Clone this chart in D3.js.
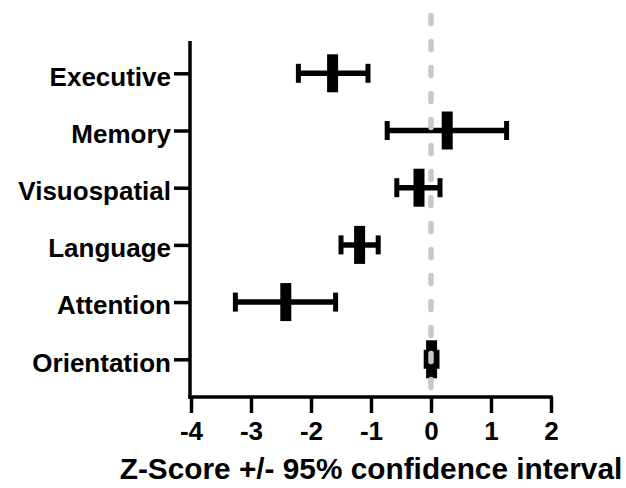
<!DOCTYPE html>
<html>
<head>
<meta charset="utf-8">
<script src="https://cdn.jsdelivr.net/npm/d3@7"></script>
<style>
  html, body { margin: 0; padding: 0; background: #fff; }
  svg text { font-family: Arial, "Liberation Sans", Helvetica, sans-serif; font-weight: bold; fill: #000; }
</style>
</head>
<body>
<svg id="chart" width="626" height="488"></svg>
<script>
// domain values
const categories = ["Executive", "Memory", "Visuospatial", "Language", "Attention", "Orientation"];
const means = [-1.64, 0.27, -0.20, -1.19, -2.42, 0.01];
const lower = [-2.21, -0.73, -0.57, -1.50, -3.26, -0.08];
const upper = [-1.05, 1.26, 0.15, -0.88, -1.59, 0.10];
const xTicks = [-4, -3, -2, -1, 0, 1, 2];
const refValue = 0;
const xTitle = "Z-Score +/- 95% confidence interval";

const rows = categories.map((c, i) => ({ cat: c, mean: means[i], lo: lower[i], hi: upper[i] }));

const svg = d3.select("#chart");
const AXIS_Y = 397, AXIS_X = 190, TOP = 41;

const x = d3.scaleLinear().domain([-4, 2]).range([191, 551]);
const y = d3.scalePoint().domain(categories).range([73.3, 359.3]);

// x axis
const xAxis = svg.append("g")
  .attr("transform", `translate(0,${AXIS_Y})`)
  .call(d3.axisBottom(x).tickValues(xTicks).tickFormat(d3.format("d")).tickSize(16).tickSizeOuter(0).tickPadding(8));
xAxis.select(".domain").remove();
xAxis.selectAll(".tick line").attr("stroke", "#000").attr("stroke-width", 3.5);
xAxis.selectAll(".tick text").style("font-size", "26px").attr("dy", "0.72em")
  .text(d => d < 0 ? "-" + Math.abs(d) : d);
svg.append("line")
  .attr("x1", AXIS_X - 1.75).attr("x2", x(2) + 1.75)
  .attr("y1", AXIS_Y).attr("y2", AXIS_Y)
  .attr("stroke", "#000").attr("stroke-width", 3.5);

// y axis
const yAxis = svg.append("g")
  .attr("transform", `translate(${AXIS_X},0)`)
  .call(d3.axisLeft(y).tickSize(16).tickSizeOuter(0).tickPadding(3));
yAxis.select(".domain").remove();
yAxis.selectAll(".tick line").attr("stroke", "#000").attr("stroke-width", 3.5);
yAxis.selectAll(".tick text").style("font-size", "26px").attr("dy", "0.45em");
svg.append("line")
  .attr("x1", AXIS_X).attr("x2", AXIS_X)
  .attr("y1", TOP).attr("y2", AXIS_Y + 1.75)
  .attr("stroke", "#000").attr("stroke-width", 3.5);

// error bars
const bars = svg.append("g").selectAll("g").data(rows).enter().append("g");
bars.append("line")
  .attr("x1", d => x(d.lo)).attr("x2", d => x(d.hi))
  .attr("y1", d => y(d.cat)).attr("y2", d => y(d.cat))
  .attr("stroke", "#000").attr("stroke-width", 5.5);
bars.append("line")
  .attr("x1", d => x(d.lo)).attr("x2", d => x(d.lo))
  .attr("y1", d => y(d.cat) - 9.5).attr("y2", d => y(d.cat) + 9.5)
  .attr("stroke", "#000").attr("stroke-width", 5);
bars.append("line")
  .attr("x1", d => x(d.hi)).attr("x2", d => x(d.hi))
  .attr("y1", d => y(d.cat) - 9.5).attr("y2", d => y(d.cat) + 9.5)
  .attr("stroke", "#000").attr("stroke-width", 5);
// mean marker
bars.append("rect")
  .attr("x", d => x(d.mean) - 5.5).attr("width", 11)
  .attr("y", d => y(d.cat) - 19).attr("height", 38)
  .attr("fill", "#000");

// dashed reference line at zero (drawn over the marks)
svg.append("line")
  .attr("x1", x(refValue)).attr("x2", x(refValue))
  .attr("y1", 15.5).attr("y2", AXIS_Y - 2)
  .attr("stroke", "#c8c8c8").attr("stroke-width", 5.5)
  .attr("stroke-linecap", "round")
  .attr("stroke-dasharray", "8 18");

// x title
svg.append("text")
  .attr("x", 371).attr("y", 479)
  .attr("text-anchor", "middle")
  .style("font-size", "29.8px")
  .text(xTitle);
</script>
</body>
</html>
